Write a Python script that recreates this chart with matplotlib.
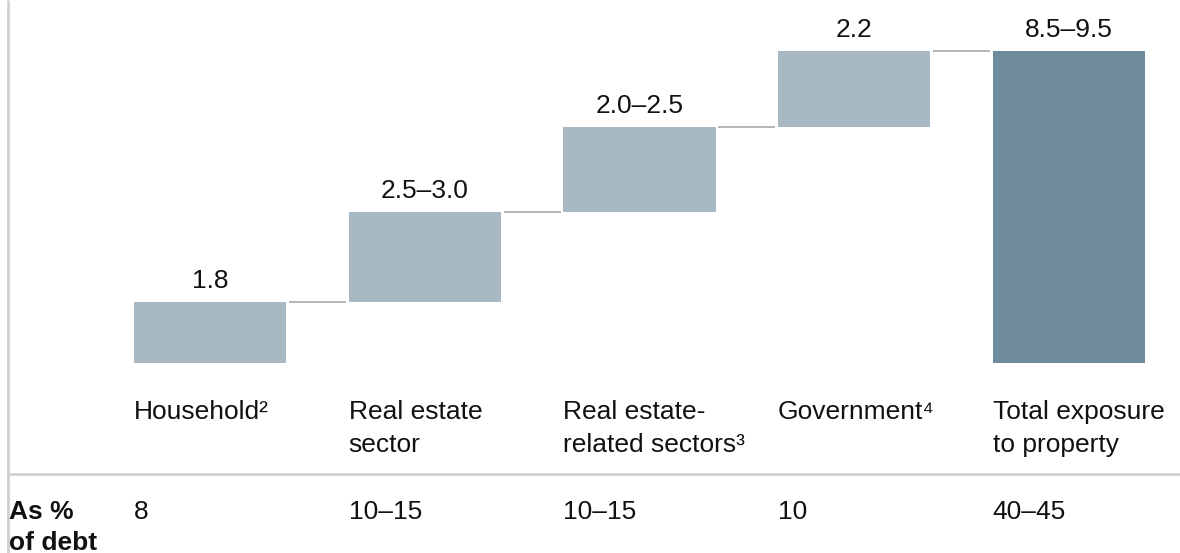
import matplotlib
matplotlib.use("Agg")
import matplotlib.pyplot as plt

plt.rcParams['font.family'] = ['Liberation Sans', 'DejaVu Sans']

categories = ["Household\u00b2", "Real estate\nsector", "Real estate-\nrelated sectors\u00b3",
              "Government\u2074", "Total exposure\nto property"]
values = [1.75, 2.6, 2.45, 2.2]          # step heights (estimated midpoints)
total = 9.0
value_labels = ["1.8", "2.5\u20133.0", "2.0\u20132.5", "2.2", "8.5\u20139.5"]
debt_share = ["8", "10\u201315", "10\u201315", "10", "40\u201345"]
row_title = "As %\nof debt"

light = "#a9b9c4"
dark = "#6f8c9c"
conn = "#b0b0b0"
rule = "#d0d0d0"
txt = "#111111"
fs = 19

fig = plt.figure(figsize=(11.8, 5.53), dpi=100)
ax = fig.add_axes([0, 0, 1, 1])
ax.set_xlim(-0.978, 4.517)
ax.set_ylim(-5.48, 10.47)
ax.axis("off")

w = 0.71
bottoms = []
b = 0.0
for v in values:
    bottoms.append(b)
    b += v
xs = list(range(len(categories)))
ax.bar(xs[:4], values, bottom=bottoms, width=w, color=light, align="center")
ax.bar(xs[4], total, bottom=0, width=w, color=dark, align="center")

# connectors
tops = [bt + v for bt, v in zip(bottoms, values)]
gap = 0.012
for i in range(4):
    ax.plot([xs[i] + w / 2 + gap, xs[i + 1] - w / 2 - gap], [tops[i], tops[i]],
            color=conn, lw=1.3, solid_capstyle="butt")

# value labels
all_tops = tops + [total]
for i, (t, lab) in enumerate(zip(all_tops, value_labels)):
    ax.annotate(lab, (xs[i], t), xytext=(0, 10), textcoords="offset points",
                ha="center", va="baseline", fontsize=fs, color=txt)

# category labels
for i, cat in enumerate(categories):
    ax.text(xs[i] - w / 2, -1.07, cat, ha="left", va="top", fontsize=fs,
            color=txt, linespacing=1.45)

# separators
xleft = -0.943
ysep = -3.20
ax.plot([xleft, xleft], [-5.48, 10.47], color=rule, lw=2, solid_capstyle="butt")
ax.plot([xleft, 4.517], [ysep, ysep], color=rule, lw=2, solid_capstyle="butt")

# debt row
ax.text(xleft + 0.008, -3.94, row_title, ha="left", va="top", fontsize=fs,
        fontweight="bold", color=txt, linespacing=1.38)
for i, d in enumerate(debt_share):
    ax.text(xs[i] - w / 2, -3.94, d, ha="left", va="top", fontsize=fs, color=txt)

fig.savefig("out.png", dpi=100)
